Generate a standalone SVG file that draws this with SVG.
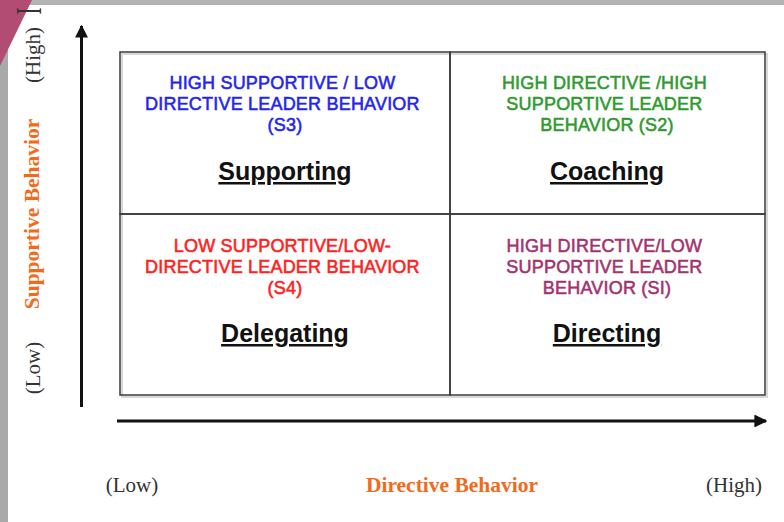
<svg xmlns="http://www.w3.org/2000/svg" width="784" height="522" viewBox="0 0 784 522">
  <style>
    .quad { font-family: "Liberation Sans", Arial, sans-serif; font-size: 18px; text-anchor: middle; stroke-width: 0.55; letter-spacing: 0.2px; }
    .title { font-family: "Liberation Sans", Arial, sans-serif; font-size: 25px; font-weight: bold; text-anchor: middle; fill: #111; text-decoration: underline; }
    .axis { font-family: "Liberation Serif", "Times New Roman", serif; font-size: 21px; fill: #333; }
    .axis-title { font-family: "Liberation Serif", "Times New Roman", serif; font-size: 21.5px; font-weight: bold; fill: #f26a1b; }
    .cell { fill: none; stroke: #3a3a3a; stroke-width: 1.5; }
    .axis-line { stroke: #111; stroke-width: 3; fill: none; }
  </style>
  <defs>
    <marker id="arrow" viewBox="0 0 10 10" refX="9" refY="5" markerWidth="4.3" markerHeight="4.3" orient="auto" markerUnits="strokeWidth">
      <path d="M0,0 L10,5 L0,10 z" fill="#111"/>
    </marker>
  </defs>

  <!-- page frame -->
  <rect x="0" y="0" width="784" height="522" fill="#ffffff"/>
  <rect x="0" y="0" width="784" height="5" fill="#b3b3b3"/>
  <rect x="0" y="0" width="8" height="522" fill="#a9a9a9"/>
  <polygon points="0,0 32,0 0,66" fill="#b24c73"/>

  <!-- axes -->
  <g id="connectors">
    <line class="axis-line" x1="81.5" y1="407" x2="81.5" y2="26" marker-end="url(#arrow)"/>
    <line class="axis-line" x1="117" y1="421" x2="766" y2="421" marker-end="url(#arrow)"/>
  </g>

  <!-- vertical axis labels -->
  <g id="y-axis-labels">
    <text class="axis" transform="translate(41,11) rotate(-90) scale(1,1.7)" text-anchor="middle">I</text>
    <text class="axis" transform="translate(40,55) rotate(-90)" text-anchor="middle">(High)</text>
    <text class="axis-title" transform="translate(39,214) rotate(-90)" text-anchor="middle">Supportive Behavior</text>
    <text class="axis" transform="translate(40,368) rotate(-90)" text-anchor="middle">(Low)</text>
  </g>

  <!-- horizontal axis labels -->
  <g id="x-axis-labels">
    <text class="axis" x="132" y="492" text-anchor="middle">(Low)</text>
    <text class="axis-title" x="452" y="492" text-anchor="middle">Directive Behavior</text>
    <text class="axis" x="734" y="492" text-anchor="middle">(High)</text>
  </g>

  <!-- grid shadow -->
  <rect x="122" y="54" width="645" height="343" fill="none" stroke="#d8d8d8" stroke-width="2"/>

  <g id="s3-supporting">
    <rect class="cell" x="120" y="52" width="330" height="162"/>
    <text class="quad" fill="#2424f0" stroke="#2424f0">
      <tspan x="285" y="89">HIGH SUPPORTIVE / LOW</tspan>
      <tspan x="285" y="110">DIRECTIVE LEADER BEHAVIOR</tspan>
      <tspan x="285" y="131">(S3)</tspan>
    </text>
    <text class="title" x="285" y="180">Supporting</text>
  </g>

  <g id="s2-coaching">
    <rect class="cell" x="450" y="52" width="315" height="162"/>
    <text class="quad" fill="#2f9a2f" stroke="#2f9a2f">
      <tspan x="607" y="89">HIGH DIRECTIVE /HIGH</tspan>
      <tspan x="607" y="110">SUPPORTIVE LEADER</tspan>
      <tspan x="607" y="131">BEHAVIOR (S2)</tspan>
    </text>
    <text class="title" x="607" y="180">Coaching</text>
  </g>

  <g id="s4-delegating">
    <rect class="cell" x="120" y="214" width="330" height="181"/>
    <text class="quad" fill="#ff2020" stroke="#ff2020">
      <tspan x="285" y="252">LOW SUPPORTIVE/LOW-</tspan>
      <tspan x="285" y="273">DIRECTIVE LEADER BEHAVIOR</tspan>
      <tspan x="285" y="294">(S4)</tspan>
    </text>
    <text class="title" x="285" y="342">Delegating</text>
  </g>

  <g id="s1-directing">
    <rect class="cell" x="450" y="214" width="315" height="181"/>
    <text class="quad" fill="#a3336e" stroke="#a3336e">
      <tspan x="607" y="252">HIGH DIRECTIVE/LOW</tspan>
      <tspan x="607" y="273">SUPPORTIVE LEADER</tspan>
      <tspan x="607" y="294">BEHAVIOR (SI)</tspan>
    </text>
    <text class="title" x="607" y="342">Directing</text>
  </g>
</svg>
